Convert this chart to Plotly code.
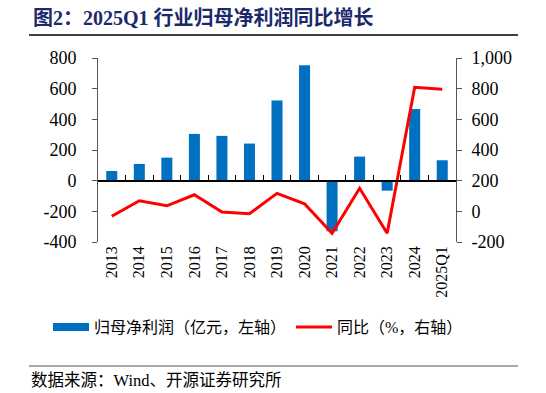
import plotly.graph_objects as go

categories = ["2013", "2014", "2015", "2016", "2017", "2018", "2019", "2020",
              "2021", "2022", "2023", "2024", "2025Q1"]
profit = [63, 109, 150, 305, 292, 242, 523, 752, -330, 157, -65, 467, 133]
yoy = [-32, 69, 36, 108, -5, -16, 117, 49, -143, 150, -143, 809, 796]
left_ticks = [-400, -200, 0, 200, 400, 600, 800]
right_ticks = [-200, 0, 200, 400, 600, 800, 1000]

W, H = 546, 393
L, R, T, B = 98, 90, 58, 151
PW, PH = W - L - R, H - T - B
serif = "Liberation Serif"
mixed = "Liberation Serif, Noto Sans CJK SC"


def px_x(x):
    return (x - L) / PW


def px_y(y):
    return (H - B - y) / PH


fig = go.Figure()
fig.add_trace(go.Bar(x=categories, y=profit, name="归母净利润（亿元，左轴）",
                     marker=dict(color="#0070C0", line=dict(width=0)),
                     width=0.4, xaxis="x", yaxis="y", showlegend=False))
fig.add_trace(go.Scatter(x=[None], y=[None], name="归母净利润（亿元，左轴）", mode="lines",
                         line=dict(color="#0070C0", width=8), xaxis="x", yaxis="y"))
fig.add_trace(go.Scatter(x=categories, y=yoy, name="同比（%，右轴）", mode="lines",
                         line=dict(color="#FF0000", width=3), xaxis="x2", yaxis="y2"))

fig.update_layout(
    width=W, height=H,
    margin=dict(l=L, r=R, t=T, b=B, autoexpand=False),
    paper_bgcolor="white", plot_bgcolor="white",
    showlegend=True,
    legend=dict(orientation="h", x=px_x(48), xanchor="left", y=px_y(327), yanchor="middle",
                font=dict(family=mixed, size=16, color="#000"),
                traceorder="normal", bgcolor="rgba(0,0,0,0)", itemwidth=36),
    xaxis=dict(type="category", categoryarray=categories, range=[-0.5, 12.5],
               showline=False, ticks="", tickangle=-90, automargin=False,
               tickfont=dict(family=serif, size=16, color="#000"),
               showgrid=False, zeroline=False),
    xaxis2=dict(type="category", categoryarray=categories, range=[-0.5, 12.5],
                overlaying="x", anchor="free", position=1 / 3, automargin=False,
                showline=True, linecolor="#000", linewidth=1.5,
                ticks="inside", tickson="boundaries", ticklen=5, tickcolor="#000",
                showticklabels=False, showgrid=False, zeroline=False),
    yaxis=dict(range=[-400, 800], tickvals=left_ticks, ticktext=[str(v) for v in left_ticks],
               showline=True, linecolor="#555", linewidth=1, ticks="outside", automargin=False,
               ticklen=5, tickcolor="#555", showgrid=False, zeroline=False, ticklabelstandoff=12,
               tickfont=dict(family=serif, size=18, color="#000")),
    yaxis2=dict(range=[-200, 1000], overlaying="y", side="right", anchor="x", automargin=False,
                tickvals=right_ticks, ticktext=[f"{v:,}" for v in right_ticks],
                showline=True, linecolor="#555", linewidth=1, ticks="outside",
                ticklen=5, tickcolor="#555", showgrid=False, zeroline=False, ticklabelstandoff=6,
                tickfont=dict(family=serif, size=18, color="#000")),
)

fig.add_annotation(text="<b>图2：2025Q1 行业归母净利润同比增长</b>", xref="paper", yref="paper",
                   x=px_x(31), y=px_y(17), xanchor="left", yanchor="middle",
                   showarrow=False, font=dict(family=mixed, size=20, color="#1B2A6B"))
fig.add_annotation(text="数据来源：Wind、开源证券研究所", xref="paper", yref="paper",
                   x=px_x(29), y=px_y(380), xanchor="left", yanchor="middle", showarrow=False,
                   font=dict(family=mixed, size=16.5, color="#000"))
fig.add_shape(type="line", xref="paper", yref="paper", x0=px_x(29), x1=px_x(518),
              y0=px_y(35), y1=px_y(35), line=dict(color="#000", width=1.5))
fig.add_shape(type="line", xref="paper", yref="paper", x0=px_x(29), x1=px_x(518),
              y0=px_y(366), y1=px_y(366), line=dict(color="#555", width=1))

fig.write_html("out.html", config={"displayModeBar": False},
               post_script="document.body.style.margin='0';")
